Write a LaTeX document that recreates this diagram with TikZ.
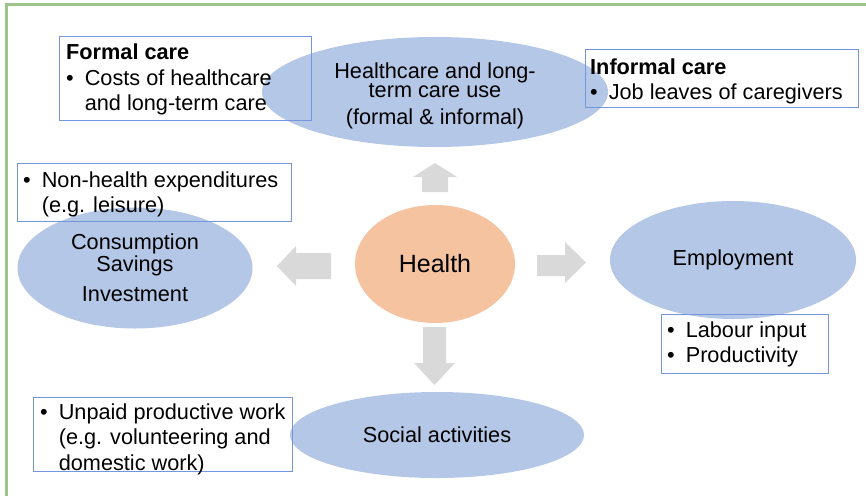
\documentclass[tikz,border=0pt]{standalone}
\usepackage{fontspec}
\setmainfont{Liberation Sans}
\usetikzlibrary{shapes.geometric}
\definecolor{ellblue}{HTML}{B4C7E7}
\definecolor{peach}{HTML}{F6C3A0}
\definecolor{boxblue}{HTML}{7596DA}
\definecolor{frameg}{HTML}{9DC48B}
\definecolor{arrg}{HTML}{D9D9D9}
\begin{document}
\begin{tikzpicture}[x=1pt,y=-1pt,
  oval/.style={ellipse, fill=ellblue, inner sep=0pt, align=center, font=\fontsize{21.7}{21.5}\selectfont},
  infobox/.style={draw=boxblue, line width=1pt, inner sep=0pt, anchor=north west},
  infotext/.style={anchor=west, inner sep=0pt, font=\fontsize{21.7}{25.5}\selectfont},
  blockarrow/.style={fill=arrg}]
\useasboundingbox (0,0) rectangle (866,495);
\fill[white] (0,0) rectangle (866,495);
\draw[frameg, line width=3pt] (6,5) rectangle (890,520);
% ellipses
\node[oval, minimum width=346, minimum height=110] (care) at (435,92) {};
\node[align=center, inner sep=0pt, font=\fontsize{21.7}{17.5}\selectfont] (caretext) at (435,96) {Healthcare and long-\\term care use\\[9.5pt](formal \& informal)};
\node[oval, minimum width=235, minimum height=121] (cons) at (135,268) {Consumption\\Savings\\[9pt]Investment};
\node[ellipse, fill=peach, minimum width=160, minimum height=118, inner sep=0pt, font=\fontsize{25}{30}\selectfont] (health) at (435,264) {Health};
\node[oval, minimum width=246, minimum height=118] (emp) at (733,260) {Employment};
\node[oval, minimum width=294, minimum height=86] (soc) at (437,435) {Social activities};
% block arrows
\fill[blockarrow] (422,192) -- (422,177) -- (413,177) -- (435,163) -- (457,177) -- (448,177) -- (448,192) -- cycle;
\fill[blockarrow] (331,253) -- (296,253) -- (296,246) -- (277,266) -- (296,286) -- (296,279) -- (331,279) -- cycle;
\fill[blockarrow] (537,255) -- (565,255) -- (565,242) -- (586,262.5) -- (565,283) -- (565,276) -- (537,276) -- cycle;
\fill[blockarrow] (423,327) -- (423,363) -- (414,363) -- (434.5,385) -- (455,363) -- (446,363) -- (446,327) -- cycle;
% boxes
\node[infobox, minimum width=252, minimum height=84] (fcbox) at (59,36) {};
\node[infobox, minimum width=273, minimum height=58] (icbox) at (585,49) {};
\node[infobox, minimum width=274, minimum height=58] (nhbox) at (17,163) {};
\node[infobox, minimum width=167, minimum height=59] (lbbox) at (661,314) {};
\node[infobox, minimum width=259, minimum height=74] (upbox) at (33,397) {};
% box texts
\node[infotext] (fctext) at (66,80) {\begin{tabular}{@{}l@{\hspace{11pt}}l@{}}\multicolumn{2}{@{}l@{}}{\textbf{Formal care}}\\ • & Costs of healthcare\\ & and long-term care\end{tabular}};
\node[infotext] (ictext) at (590,82) {\begin{tabular}{@{}l@{\hspace{11pt}}l@{}}\multicolumn{2}{@{}l@{}}{\textbf{Informal care}}\\ • & Job leaves of caregivers\end{tabular}};
\node[infotext] (nhtext) at (23,195) {\begin{tabular}{@{}l@{\hspace{11pt}}l@{}}• & Non-health expenditures\\ & (e.g. leisure)\end{tabular}};
\node[infotext] (lbtext) at (667,345) {\begin{tabular}{@{}l@{\hspace{11pt}}l@{}}• & Labour input\\ • & Productivity\end{tabular}};
\node[infotext] (uptext) at (40,439.5) {\begin{tabular}{@{}l@{\hspace{11pt}}l@{}}• & Unpaid productive work\\ & (e.g. volunteering and\\ & domestic work)\end{tabular}};
\end{tikzpicture}
\end{document}
